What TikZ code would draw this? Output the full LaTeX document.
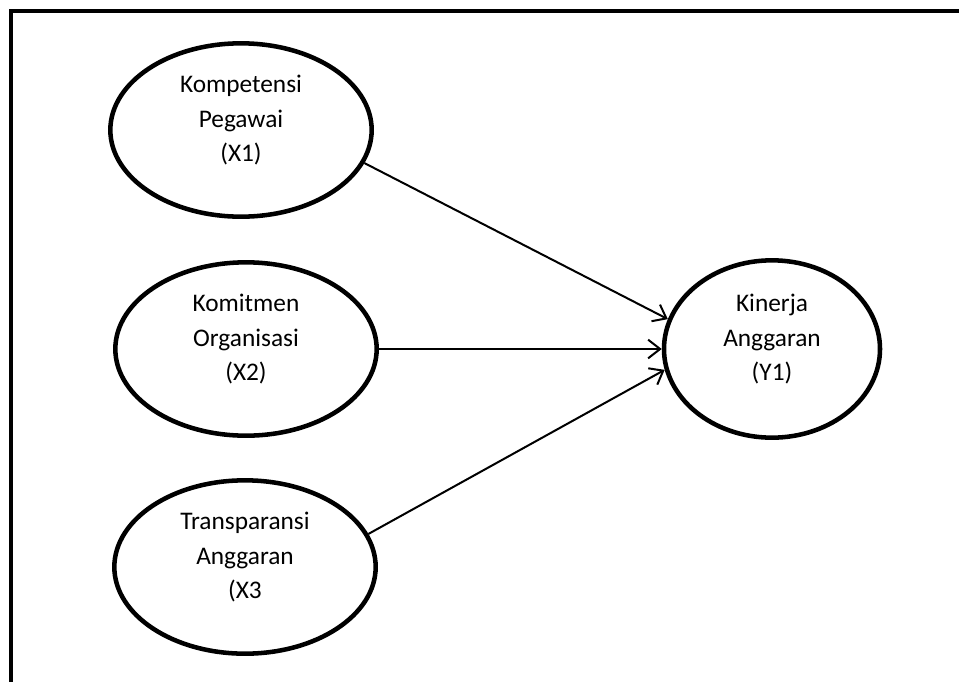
\documentclass[tikz,border=0pt]{standalone}
\usepackage{fontspec}
\setmainfont{Carlito}
\usetikzlibrary{shapes.geometric,arrows.meta}
\tikzset{
	var/.style={draw, ellipse, line width=3.4pt, inner sep=0pt, align=center,
		font=\fontsize{19}{25.8}\selectfont, text depth=17pt,
		minimum width=196pt, minimum height=130pt},
	path/.style={line width=1.5pt, -{Straight Barb[length=9pt,width=14pt]}}
}
\begin{document}
\begin{tikzpicture}[x=0.75pt, y=-0.75pt]
		\useasboundingbox (0, 0) rectangle (959, 682);
		\draw[line width=3pt] (959, 10.5) -- (10.5, 10.5) -- (10.5, 682);
		\node[var] (x1) at (241, 130) {Kompetensi\\Pegawai\\(X1)};
		\node[var] (x2) at (246, 349) {Komitmen\\Organisasi\\(X2)};
		\node[var] (x3) at (245, 567) {Transparansi\\Anggaran\\(X3};
		\node[var, minimum width=162pt, minimum height=133pt] (y1) at (772, 349) {Kinerja\\Anggaran\\(Y1)};
		\draw[path] (x1.-15) -- (y1.164);
		\draw[path] (x2.east) -- (y1.west);
		\draw[path] (x3.15) -- (y1.191);
	\end{tikzpicture}
\end{document}
